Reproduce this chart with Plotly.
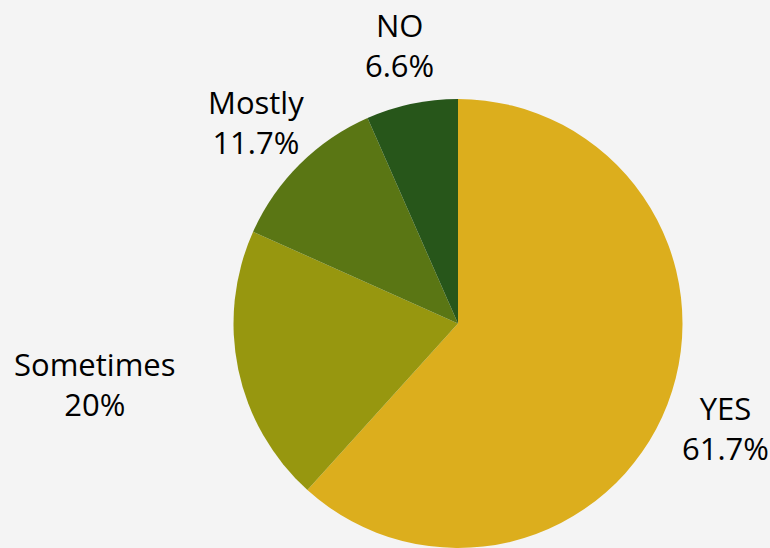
import plotly.graph_objects as go

labels = ["YES", "Sometimes", "Mostly", "NO"]
values = [61.7, 20, 11.7, 6.6]
value_text = ["61.7%", "20%", "11.7%", "6.6%"]
colors = ["#DCAE1D", "#97970F", "#5A7614", "#27561A"]

# label block centres (pixels, from top-left of the 770x548 canvas)
label_px = [(725, 428), (95, 384), (256, 122), (399, 45)]

W, H = 770, 548

fig = go.Figure(go.Pie(
    labels=labels,
    values=values,
    sort=False,
    direction="clockwise",
    rotation=0,
    marker=dict(colors=colors, line=dict(width=0)),
    textinfo="none",
    showlegend=False,
    hoverinfo="label+value",
    domain=dict(x=[233 / W, 683 / W], y=[0, 1 - 99 / H]),
))

for lab, vt, (px, py) in zip(labels, value_text, label_px):
    fig.add_annotation(
        text=f"{lab}<br>{vt}",
        x=px / W, y=1 - py / H,
        xref="paper", yref="paper",
        xanchor="center", yanchor="middle",
        showarrow=False,
        align="center",
        font=dict(family="Open Sans", size=31, color="#000000"),
    )

fig.update_layout(
    width=W,
    height=H,
    margin=dict(l=0, r=0, t=0, b=0),
    paper_bgcolor="#F4F4F4",
    plot_bgcolor="#F4F4F4",
)

fig.write_html(
    "out.html",
    config={"displayModeBar": False},
    post_script="document.body.style.margin='0';document.body.style.background='#F4F4F4';",
)
